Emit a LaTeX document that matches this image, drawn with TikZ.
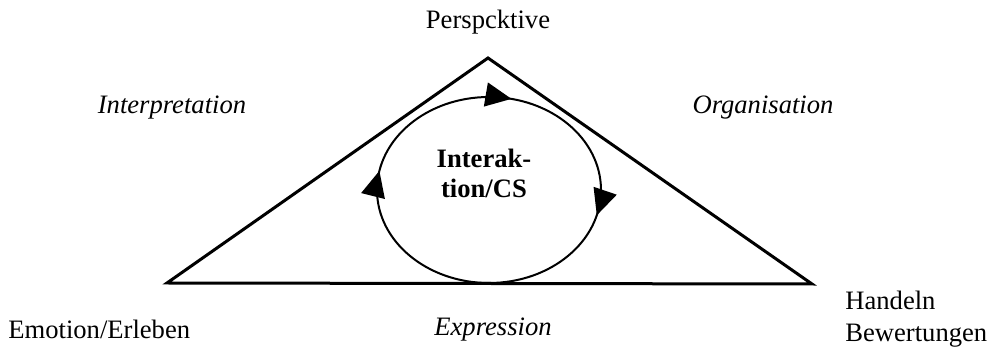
\documentclass[tikz,border=0pt]{standalone}
\usepackage{fontspec}
\setmainfont{Liberation Serif}
\usetikzlibrary{positioning,arrows.meta,decorations.markings}

\begin{document}
\begin{tikzpicture}[x=0.5pt,y=-0.5pt]
  \tikzset{
    lab/.style={font=\fontsize{13.3}{16}\selectfont,inner sep=0pt},
    side/.style={font=\fontsize{13.3}{16}\selectfont\itshape,inner sep=0pt},
    tri/.style={line width=1.5pt,line join=miter},
    cyc/.tip={Triangle[length=13pt,width=12pt]},
    circ/.style={line width=1pt,postaction={decorate},
      decoration={markings,
        mark=at position 0.04 with {\arrow{cyc}},
        mark=at position 0.53 with {\arrow{cyc}},
        mark=at position 0.785 with {\arrow{cyc}}}}
  }
  \useasboundingbox (0,0) rectangle (987,352);
  % triangle
  \coordinate (top) at (488,58);
  \coordinate (lft) at (167,283);
  \coordinate (rgt) at (812,284);
  \draw[tri] (lft) -- (top) -- (rgt) -- cycle;

  % interaction cycle
  \draw[circ] (489,190) ellipse (112 and 93);
  \node[lab,font=\fontsize{13.3}{15}\selectfont\bfseries,align=center]
    (cs) at (484,173) {Interak-\\tion/CS};

  % corner labels
  \node[lab] (persp) at (488,22) {Perspcktive};
  \node[lab,anchor=west] (emo) at (8,329) {Emotion/Erleben};
  \node[lab,anchor=west,align=left] (hand) at (845,319) {Handeln\\Bewertungen};

  % side labels
  \node[side] (interp) at (172,108) {Interpretation};
  \node[side] (orga) at (763,108) {Organisation};
  \node[side] (expr) at (493,330) {Expression};
\end{tikzpicture}
\end{document}
